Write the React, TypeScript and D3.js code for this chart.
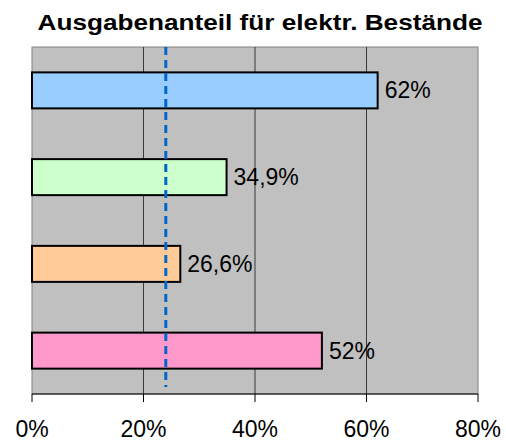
import React from "react";
import * as d3 from "d3";

// Share of spending on electronic holdings, by group (percent)
const categories = ["A", "B", "C", "D"];
const values = [62, 34.9, 26.6, 52];
const valueLabels = ["62%", "34,9%", "26,6%", "52%"];
const barColors = ["#99CCFF", "#CCFFCC", "#FFCC99", "#FF99CC"];
const xTicks = [0, 20, 40, 60, 80];
const referenceValue = 24;
const title = "Ausgabenanteil für elektr. Bestände";

const W = 506;
const H = 441;
const margin = { top: 47, right: 28, bottom: 47, left: 32 };
const FONT = "'Liberation Sans', Arial, Helvetica, sans-serif";

export default function App() {
  const x = d3
    .scaleLinear()
    .domain([0, 80])
    .range([margin.left, W - margin.right]);
  const y = d3
    .scaleBand<string>()
    .domain(categories)
    .range([margin.top, H - margin.bottom])
    .paddingInner(0.585)
    .paddingOuter(0.2925);

  const top = margin.top;
  const bottom = H - margin.bottom;

  return (
    <svg
      width={W}
      height={H}
      style={{ position: "absolute", left: 0, top: 0, background: "#fff" }}
      fontFamily={FONT}
    >
      <text
        x={260}
        y={29.5}
        textAnchor="middle"
        fontSize={22}
        fontWeight="bold"
        fill="#000"
        textLength={445}
        lengthAdjust="spacingAndGlyphs"
      >
        {title}
      </text>

      {/* plot area */}
      <rect
        x={x(0)}
        y={top}
        width={x(80) - x(0)}
        height={bottom - top}
        fill="#C0C0C0"
        stroke="#808080"
        strokeWidth={1}
      />

      {/* vertical gridlines */}
      {xTicks
        .filter((t) => t > 0 && t < 80)
        .map((t) => (
          <line
            key={t}
            x1={x(t)}
            x2={x(t)}
            y1={top}
            y2={bottom}
            stroke="#3a3a3a"
            strokeWidth={1}
          />
        ))}

      {/* bars */}
      {categories.map((c, i) => (
        <rect
          key={c}
          x={x(0)}
          y={y(c)!}
          width={x(values[i]) - x(0)}
          height={y.bandwidth()}
          fill={barColors[i]}
          stroke="#000"
          strokeWidth={2}
        />
      ))}

      {/* reference line */}
      <line
        x1={x(referenceValue)}
        x2={x(referenceValue)}
        y1={top}
        y2={bottom - 7}
        stroke="#0066CC"
        strokeWidth={3}
        strokeDasharray="8 5"
      />

      {/* value labels */}
      {categories.map((c, i) => (
        <text
          key={c}
          x={x(values[i]) + 7}
          y={y(c)! + y.bandwidth() / 2 + 8}
          fontSize={23}
          fill="#000"
        >
          {valueLabels[i]}
        </text>
      ))}

      {/* x axis */}
      <line x1={x(0)} x2={x(80)} y1={bottom} y2={bottom} stroke="#000" strokeWidth={1} />
      {xTicks.map((t) => (
        <g key={t}>
          <line x1={x(t)} x2={x(t)} y1={bottom} y2={bottom + 8} stroke="#000" strokeWidth={1} />
          <text x={x(t)} y={437} textAnchor="middle" fontSize={23} fill="#000">
            {`${t}%`}
          </text>
        </g>
      ))}
    </svg>
  );
}
